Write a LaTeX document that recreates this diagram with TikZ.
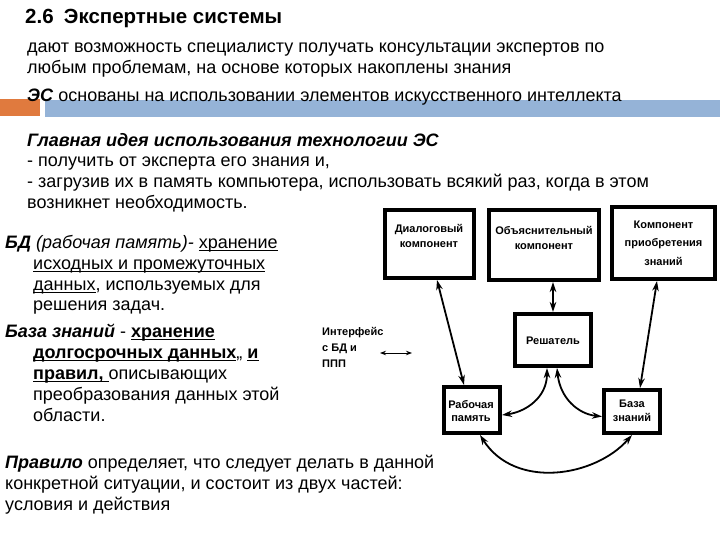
\documentclass[tikz,border=0pt]{standalone}
\usepackage{fontspec}
\setmainfont{Liberation Sans}
\usetikzlibrary{arrows.meta,calc}
\definecolor{barorange}{RGB}{224,122,62}
\definecolor{barblue}{RGB}{149,179,215}
\newcommand\myul[1]{\setbox0\hbox{#1}\rlap{\rule[-2.8pt]{\wd0}{1.1pt}}\box0}
\begin{document}
\begin{tikzpicture}[x=1pt,y=-1pt,
  txt/.style={inner sep=0pt, anchor=base west, font=\fontsize{18}{20}\selectfont},
  boxn/.style={draw=black, line width=4pt, fill=white, inner sep=0pt},
  btxt/.style={inner sep=0pt, align=center, font=\fontsize{11}{15}\selectfont\bfseries},
  dbl/.style={line width=1.8pt, {Stealth[length=10pt,width=6.5pt]}-{Stealth[length=10pt,width=6.5pt]}},
  thin dbl/.style={line width=1pt, {Stealth[length=6pt,width=4.5pt]}-{Stealth[length=6pt,width=4.5pt]}}
]
\useasboundingbox (0,0) rectangle (720,540);
% bars
\fill[barorange] (0,99) rectangle (40,116);
\fill[barblue] (45,100) rectangle (720,117);
% header
\node[txt] (title) at (25,24) {\fontsize{20.5}{22}\selectfont\bfseries 2.6\enspace Экспертные системы};
\node[txt] (l1) at (27,53) {дают возможность специалисту получать консультации экспертов по};
\node[txt] (l2) at (27,74) {любым проблемам, на основе которых накоплены знания};
\node[txt] (l3) at (27,102) {\textbf{\textit{ЭС}} основаны на использовании элементов искусственного интеллекта};
% main idea
\node[txt] (m1) at (27,147) {\textbf{\textit{Главная идея использования технологии ЭС}}};
\node[txt] (m2) at (27,167) {- получить от эксперта его знания и,};
\node[txt] (m3) at (27,188) {- загрузив их в память компьютера, использовать всякий раз, когда в этом};
\node[txt] (m4) at (27,208) {возникнет необходимость.};
% BD
\node[txt] (b1) at (5,248) {\textbf{\textit{БД}} \textit{(рабочая память)-} \myul{хранение}};
\node[txt] (b2) at (33,269) {\myul{исходных и промежуточных}};
\node[txt] (b3) at (33,290) {\myul{данных}, используемых для};
\node[txt] (b4) at (33,310) {решения задач.};
% KB
\node[txt] (k1) at (5,337) {\textbf{\textit{База знаний}} - \myul{\textbf{хранение}}};
\node[txt] (k2) at (33,358) {\myul{\textbf{долгосрочных данных}},, \myul{\textbf{и}}};
\node[txt] (k3) at (33,379) {\myul{\textbf{правил, }}описывающих};
\node[txt] (k4) at (33,400) {преобразования данных этой};
\node[txt] (k5) at (33,421) {области.};
% rule
\node[txt] (r1) at (5,468) {\textbf{\textit{Правило}} определяет, что следует делать в данной};
\node[txt] (r2) at (5,489) {конкретной ситуации, и состоит из двух частей:};
\node[txt] (r3) at (5,510) {условия и действия};
% diagram boxes
\node[boxn, minimum width=89pt, minimum height=68pt] (dial) at (429.5,244) {};
\node[boxn, minimum width=110pt, minimum height=70pt] (expl) at (544,245) {};
\node[boxn, minimum width=103pt, minimum height=72pt] (acq) at (663.5,243) {};
\node[boxn, minimum width=76pt, minimum height=52pt] (solv) at (553,340) {};
\node[boxn, minimum width=56pt, minimum height=46pt] (work) at (472,410) {};
\node[boxn, minimum width=56pt, minimum height=43pt] (kb) at (632,411.5) {};
\node[btxt] (dialt) at (429,236) {Диалоговый\\компонент};
\node[btxt] (explt) at (544,238) {Объяснительный\\компонент};
\node[btxt, font=\fontsize{11}{18.5}\selectfont\bfseries] (acqt) at (663.5,243) {Компонент\\приобретения\\знаний};
\node[btxt] (solvt) at (553,341) {Решатель};
\node[btxt, font=\fontsize{11}{13.5}\selectfont\bfseries] (workt) at (471,411) {Рабочая\\память};
\node[btxt, font=\fontsize{11}{13.5}\selectfont\bfseries] (kbt) at (632,411) {База\\знаний};
% interface
\node[inner sep=0pt, anchor=north west, align=left, font=\fontsize{11}{16}\selectfont\bfseries] (intf) at (322,327) {Интерфейс\\с БД и\\ППП};
\coordinate (ia) at (380,353);
\coordinate (ib) at (412,353);
\draw[thin dbl] (ia) -- (ib);
% arrows
\draw[dbl] ([xshift=7.5pt]dial.south) -- ([xshift=-8pt]work.north);
\draw[dbl] (solv.north) -- (solv.north |- expl.south);
\draw[dbl] ([xshift=-6.5pt]acq.south) -- ([xshift=8pt]kb.north);
\draw[dbl] ([xshift=-6pt]solv.south) .. controls (547,398) and (525,412) .. ([yshift=-5pt]work.east);
\draw[dbl] ([xshift=4pt]solv.south) .. controls (560,398) and (578,414) .. ([yshift=-5pt]kb.west);
\draw[dbl] ([xshift=8pt]work.south) .. controls (515,490) and (595,477) .. (kb.south);
\end{tikzpicture}
\end{document}
